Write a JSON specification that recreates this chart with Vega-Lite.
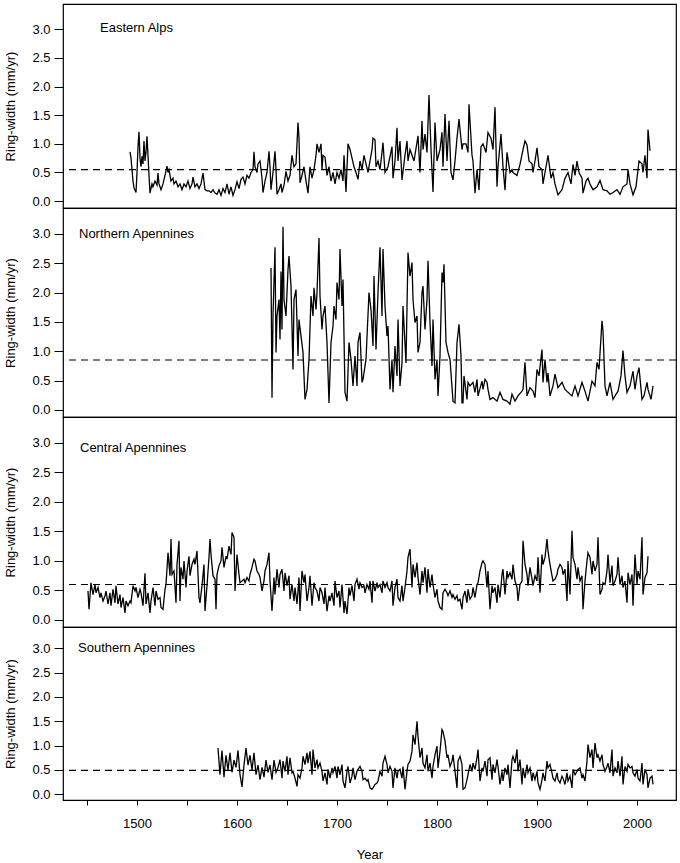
{
"$schema": "https://vega.github.io/schema/vega-lite/v6.json",
"padding": {"left": 4, "top": 3, "right": 4, "bottom": 0},
"spacing": 0,
"bounds": "flush",
"config": {
 "font": "Liberation Sans",
 "view": {"stroke": "black", "strokeWidth": 1.2},
 "axis": {"labelFont": "Liberation Sans", "titleFont": "Liberation Sans", "labelFontSize": 13, "titleFontSize": 13, "titleFontWeight": "normal", "labelColor": "black", "titleColor": "black", "tickColor": "black", "domain": false, "grid": false, "labelOverlap": false, "labelBound": false, "labelFlush": false}
},
"datasets": {
 "ea": [
{"year":1493,"rw":0.86},{"year":1494,"rw":0.75},{"year":1496,"rw":0.35},{"year":1497,"rw":0.23},{"year":1499,"rw":0.15},{"year":1500,"rw":0.5},{"year":1501,"rw":0.95},{"year":1502,"rw":1.21},{"year":1503,"rw":0.75},{"year":1504,"rw":0.6},{"year":1505,"rw":0.78},{"year":1506,"rw":0.65},{"year":1507,"rw":1.05},{"year":1508,"rw":0.7},{"year":1509,"rw":0.85},{"year":1510,"rw":1.13},{"year":1511,"rw":0.8},{"year":1512,"rw":0.45},{"year":1513,"rw":0.14},{"year":1515,"rw":0.3},{"year":1516,"rw":0.25},{"year":1518,"rw":0.35},{"year":1520,"rw":0.28},{"year":1521,"rw":0.49},{"year":1522,"rw":0.3},{"year":1524,"rw":0.2},{"year":1526,"rw":0.3},{"year":1528,"rw":0.45},{"year":1530,"rw":0.61},{"year":1531,"rw":0.5},{"year":1532,"rw":0.55},{"year":1534,"rw":0.35},{"year":1536,"rw":0.4},{"year":1537,"rw":0.3},{"year":1539,"rw":0.35},{"year":1541,"rw":0.25},{"year":1543,"rw":0.3},{"year":1545,"rw":0.2},{"year":1547,"rw":0.3},{"year":1549,"rw":0.25},{"year":1551,"rw":0.35},{"year":1553,"rw":0.22},{"year":1555,"rw":0.3},{"year":1556,"rw":0.42},{"year":1558,"rw":0.25},{"year":1560,"rw":0.3},{"year":1562,"rw":0.22},{"year":1564,"rw":0.3},{"year":1566,"rw":0.49},{"year":1568,"rw":0.2},{"year":1570,"rw":0.18},{"year":1572,"rw":0.18},{"year":1574,"rw":0.15},{"year":1576,"rw":0.2},{"year":1578,"rw":0.14},{"year":1580,"rw":0.12},{"year":1582,"rw":0.2},{"year":1584,"rw":0.1},{"year":1586,"rw":0.22},{"year":1588,"rw":0.15},{"year":1590,"rw":0.3},{"year":1592,"rw":0.12},{"year":1594,"rw":0.25},{"year":1596,"rw":0.1},{"year":1598,"rw":0.2},{"year":1600,"rw":0.34},{"year":1602,"rw":0.22},{"year":1604,"rw":0.38},{"year":1606,"rw":0.42},{"year":1608,"rw":0.3},{"year":1610,"rw":0.45},{"year":1612,"rw":0.4},{"year":1614,"rw":0.5},{"year":1616,"rw":0.55},{"year":1617,"rw":0.86},{"year":1618,"rw":0.6},{"year":1620,"rw":0.5},{"year":1621,"rw":0.65},{"year":1623,"rw":0.7},{"year":1625,"rw":0.4},{"year":1626,"rw":0.15},{"year":1628,"rw":0.35},{"year":1630,"rw":0.5},{"year":1632,"rw":0.87},{"year":1633,"rw":0.6},{"year":1634,"rw":0.2},{"year":1636,"rw":0.5},{"year":1638,"rw":0.87},{"year":1639,"rw":0.55},{"year":1640,"rw":0.12},{"year":1642,"rw":0.2},{"year":1644,"rw":0.3},{"year":1645,"rw":0.15},{"year":1647,"rw":0.28},{"year":1649,"rw":0.52},{"year":1651,"rw":0.35},{"year":1653,"rw":0.45},{"year":1655,"rw":0.8},{"year":1657,"rw":0.6},{"year":1659,"rw":0.65},{"year":1661,"rw":1.37},{"year":1662,"rw":1.1},{"year":1663,"rw":0.32},{"year":1665,"rw":0.45},{"year":1667,"rw":0.6},{"year":1669,"rw":0.35},{"year":1671,"rw":0.14},{"year":1673,"rw":0.6},{"year":1675,"rw":0.4},{"year":1677,"rw":0.55},{"year":1679,"rw":0.8},{"year":1680,"rw":1.0},{"year":1682,"rw":0.85},{"year":1684,"rw":1.0},{"year":1685,"rw":0.55},{"year":1686,"rw":0.8},{"year":1688,"rw":0.77},{"year":1690,"rw":0.45},{"year":1692,"rw":0.6},{"year":1694,"rw":0.35},{"year":1696,"rw":0.5},{"year":1698,"rw":0.3},{"year":1700,"rw":0.5},{"year":1702,"rw":0.4},{"year":1704,"rw":0.55},{"year":1706,"rw":0.35},{"year":1707,"rw":0.8},{"year":1709,"rw":0.16},{"year":1711,"rw":1.0},{"year":1713,"rw":0.9},{"year":1715,"rw":0.75},{"year":1717,"rw":0.6},{"year":1719,"rw":0.5},{"year":1721,"rw":0.38},{"year":1723,"rw":0.7},{"year":1725,"rw":0.55},{"year":1727,"rw":0.8},{"year":1729,"rw":0.65},{"year":1731,"rw":0.5},{"year":1733,"rw":0.7},{"year":1735,"rw":0.9},{"year":1736,"rw":1.1},{"year":1738,"rw":1.07},{"year":1739,"rw":0.6},{"year":1741,"rw":0.7},{"year":1743,"rw":0.55},{"year":1745,"rw":0.85},{"year":1746,"rw":1.02},{"year":1748,"rw":0.5},{"year":1751,"rw":0.6},{"year":1755,"rw":0.95},{"year":1756,"rw":0.4},{"year":1758,"rw":0.7},{"year":1760,"rw":1.28},{"year":1761,"rw":0.7},{"year":1763,"rw":1.05},{"year":1765,"rw":0.37},{"year":1768,"rw":0.8},{"year":1770,"rw":1.05},{"year":1771,"rw":0.7},{"year":1773,"rw":0.9},{"year":1775,"rw":0.8},{"year":1777,"rw":0.7},{"year":1781,"rw":1.14},{"year":1783,"rw":0.5},{"year":1785,"rw":1.4},{"year":1786,"rw":0.9},{"year":1788,"rw":1.17},{"year":1790,"rw":0.85},{"year":1792,"rw":1.85},{"year":1794,"rw":0.9},{"year":1796,"rw":0.16},{"year":1798,"rw":1.37},{"year":1800,"rw":0.7},{"year":1803,"rw":0.9},{"year":1805,"rw":1.2},{"year":1806,"rw":0.6},{"year":1808,"rw":1.52},{"year":1810,"rw":0.7},{"year":1812,"rw":1.4},{"year":1814,"rw":0.5},{"year":1816,"rw":0.37},{"year":1818,"rw":0.7},{"year":1820,"rw":1.1},{"year":1822,"rw":1.43},{"year":1825,"rw":0.9},{"year":1826,"rw":1.0},{"year":1829,"rw":1.0},{"year":1831,"rw":0.85},{"year":1832,"rw":1.69},{"year":1835,"rw":0.8},{"year":1836,"rw":0.7},{"year":1838,"rw":0.14},{"year":1840,"rw":0.55},{"year":1842,"rw":0.19},{"year":1844,"rw":0.95},{"year":1846,"rw":1.0},{"year":1849,"rw":0.85},{"year":1851,"rw":1.2},{"year":1854,"rw":1.1},{"year":1856,"rw":0.9},{"year":1858,"rw":1.64},{"year":1860,"rw":0.25},{"year":1861,"rw":0.6},{"year":1864,"rw":1.17},{"year":1866,"rw":0.6},{"year":1868,"rw":0.19},{"year":1870,"rw":0.85},{"year":1873,"rw":0.5},{"year":1875,"rw":0.55},{"year":1876,"rw":0.5},{"year":1880,"rw":0.45},{"year":1883,"rw":0.64},{"year":1886,"rw":0.9},{"year":1888,"rw":1.05},{"year":1890,"rw":0.98},{"year":1892,"rw":0.7},{"year":1895,"rw":0.65},{"year":1896,"rw":0.5},{"year":1898,"rw":0.7},{"year":1900,"rw":0.93},{"year":1902,"rw":0.6},{"year":1905,"rw":0.55},{"year":1906,"rw":0.3},{"year":1909,"rw":0.6},{"year":1911,"rw":0.8},{"year":1914,"rw":0.4},{"year":1916,"rw":0.5},{"year":1918,"rw":0.3},{"year":1921,"rw":0.11},{"year":1925,"rw":0.2},{"year":1928,"rw":0.4},{"year":1931,"rw":0.5},{"year":1934,"rw":0.3},{"year":1936,"rw":0.64},{"year":1938,"rw":0.45},{"year":1940,"rw":0.7},{"year":1942,"rw":0.5},{"year":1945,"rw":0.4},{"year":1946,"rw":0.14},{"year":1949,"rw":0.35},{"year":1951,"rw":0.4},{"year":1953,"rw":0.3},{"year":1956,"rw":0.2},{"year":1960,"rw":0.25},{"year":1963,"rw":0.36},{"year":1966,"rw":0.2},{"year":1970,"rw":0.18},{"year":1973,"rw":0.12},{"year":1976,"rw":0.15},{"year":1980,"rw":0.2},{"year":1983,"rw":0.12},{"year":1986,"rw":0.25},{"year":1990,"rw":0.3},{"year":1991,"rw":0.55},{"year":1993,"rw":0.3},{"year":1996,"rw":0.11},{"year":1999,"rw":0.25},{"year":2002,"rw":0.7},{"year":2005,"rw":0.65},{"year":2006,"rw":0.5},{"year":2008,"rw":0.8},{"year":2010,"rw":0.4},{"year":2011,"rw":1.25},{"year":2013,"rw":0.88}
 ],
 "na": [
{"year":1634,"rw":2.42},{"year":1635,"rw":0.21},{"year":1636,"rw":1.6},{"year":1638,"rw":2.77},{"year":1639,"rw":0.98},{"year":1640,"rw":1.6},{"year":1642,"rw":1.88},{"year":1643,"rw":1.2},{"year":1644,"rw":2.36},{"year":1645,"rw":1.37},{"year":1646,"rw":3.12},{"year":1647,"rw":1.88},{"year":1649,"rw":1.6},{"year":1651,"rw":2.39},{"year":1652,"rw":2.62},{"year":1654,"rw":2.11},{"year":1656,"rw":0.69},{"year":1657,"rw":1.88},{"year":1659,"rw":2.05},{"year":1661,"rw":0.92},{"year":1662,"rw":1.54},{"year":1664,"rw":1.26},{"year":1666,"rw":0.98},{"year":1668,"rw":0.18},{"year":1670,"rw":0.35},{"year":1672,"rw":0.86},{"year":1674,"rw":1.94},{"year":1676,"rw":1.6},{"year":1677,"rw":2.08},{"year":1679,"rw":1.71},{"year":1680,"rw":2.0},{"year":1682,"rw":2.93},{"year":1683,"rw":1.94},{"year":1685,"rw":1.37},{"year":1686,"rw":1.6},{"year":1688,"rw":1.77},{"year":1690,"rw":1.15},{"year":1692,"rw":0.12},{"year":1694,"rw":1.15},{"year":1696,"rw":1.43},{"year":1697,"rw":1.77},{"year":1699,"rw":1.54},{"year":1700,"rw":2.17},{"year":1702,"rw":1.88},{"year":1703,"rw":2.74},{"year":1705,"rw":1.77},{"year":1706,"rw":2.22},{"year":1708,"rw":0.3},{"year":1710,"rw":0.15},{"year":1712,"rw":1.15},{"year":1714,"rw":0.86},{"year":1716,"rw":0.41},{"year":1718,"rw":0.92},{"year":1720,"rw":0.41},{"year":1721,"rw":1.15},{"year":1723,"rw":1.32},{"year":1725,"rw":0.47},{"year":1726,"rw":0.52},{"year":1729,"rw":0.86},{"year":1732,"rw":2.0},{"year":1734,"rw":1.71},{"year":1736,"rw":1.09},{"year":1737,"rw":2.28},{"year":1739,"rw":1.03},{"year":1741,"rw":2.0},{"year":1743,"rw":2.77},{"year":1745,"rw":1.6},{"year":1746,"rw":2.74},{"year":1748,"rw":1.77},{"year":1750,"rw":1.26},{"year":1751,"rw":1.43},{"year":1753,"rw":0.35},{"year":1755,"rw":0.86},{"year":1756,"rw":0.3},{"year":1758,"rw":1.09},{"year":1760,"rw":0.58},{"year":1761,"rw":1.54},{"year":1763,"rw":0.41},{"year":1765,"rw":0.8},{"year":1766,"rw":1.77},{"year":1769,"rw":0.8},{"year":1771,"rw":2.68},{"year":1773,"rw":2.28},{"year":1775,"rw":2.51},{"year":1776,"rw":1.88},{"year":1778,"rw":1.49},{"year":1780,"rw":1.6},{"year":1781,"rw":0.98},{"year":1783,"rw":1.15},{"year":1785,"rw":2.0},{"year":1786,"rw":2.11},{"year":1788,"rw":1.37},{"year":1790,"rw":1.88},{"year":1791,"rw":2.54},{"year":1793,"rw":1.49},{"year":1795,"rw":0.75},{"year":1796,"rw":1.54},{"year":1798,"rw":0.52},{"year":1800,"rw":0.86},{"year":1801,"rw":0.24},{"year":1803,"rw":0.92},{"year":1805,"rw":2.34},{"year":1806,"rw":2.17},{"year":1807,"rw":2.48},{"year":1809,"rw":1.15},{"year":1811,"rw":0.98},{"year":1813,"rw":0.86},{"year":1816,"rw":0.15},{"year":1818,"rw":0.12},{"year":1820,"rw":1.15},{"year":1822,"rw":1.46},{"year":1823,"rw":1.2},{"year":1824,"rw":0.92},{"year":1825,"rw":0.12},{"year":1826,"rw":0.12},{"year":1827,"rw":0.58},{"year":1830,"rw":0.18},{"year":1831,"rw":0.47},{"year":1833,"rw":0.41},{"year":1836,"rw":0.47},{"year":1838,"rw":0.3},{"year":1840,"rw":0.52},{"year":1841,"rw":0.24},{"year":1845,"rw":0.49},{"year":1846,"rw":0.35},{"year":1848,"rw":0.52},{"year":1850,"rw":0.47},{"year":1851,"rw":0.35},{"year":1853,"rw":0.18},{"year":1856,"rw":0.21},{"year":1860,"rw":0.15},{"year":1863,"rw":0.3},{"year":1866,"rw":0.18},{"year":1870,"rw":0.15},{"year":1873,"rw":0.1},{"year":1875,"rw":0.27},{"year":1878,"rw":0.15},{"year":1881,"rw":0.24},{"year":1885,"rw":0.32},{"year":1886,"rw":0.35},{"year":1888,"rw":0.81},{"year":1890,"rw":0.24},{"year":1893,"rw":0.38},{"year":1896,"rw":0.32},{"year":1898,"rw":0.21},{"year":1900,"rw":0.69},{"year":1902,"rw":0.58},{"year":1905,"rw":1.03},{"year":1906,"rw":0.47},{"year":1908,"rw":0.86},{"year":1910,"rw":0.47},{"year":1911,"rw":0.63},{"year":1913,"rw":0.24},{"year":1916,"rw":0.41},{"year":1918,"rw":0.61},{"year":1921,"rw":0.38},{"year":1925,"rw":0.47},{"year":1928,"rw":0.35},{"year":1931,"rw":0.3},{"year":1935,"rw":0.24},{"year":1938,"rw":0.41},{"year":1941,"rw":0.24},{"year":1945,"rw":0.47},{"year":1948,"rw":0.32},{"year":1951,"rw":0.15},{"year":1955,"rw":0.49},{"year":1958,"rw":0.41},{"year":1960,"rw":0.81},{"year":1962,"rw":0.69},{"year":1965,"rw":1.52},{"year":1966,"rw":1.35},{"year":1968,"rw":0.41},{"year":1970,"rw":0.24},{"year":1973,"rw":0.47},{"year":1976,"rw":0.18},{"year":1978,"rw":0.24},{"year":1981,"rw":0.32},{"year":1984,"rw":0.58},{"year":1986,"rw":1.01},{"year":1988,"rw":0.58},{"year":1990,"rw":0.3},{"year":1993,"rw":0.41},{"year":1996,"rw":0.66},{"year":1998,"rw":0.35},{"year":2000,"rw":0.58},{"year":2002,"rw":0.72},{"year":2005,"rw":0.18},{"year":2007,"rw":0.24},{"year":2010,"rw":0.47},{"year":2011,"rw":0.35},{"year":2014,"rw":0.18},{"year":2016,"rw":0.41}
 ],
 "ca": [
{"year":1451,"rw":0.49},{"year":1452,"rw":0.18},{"year":1454,"rw":0.63},{"year":1456,"rw":0.43},{"year":1458,"rw":0.6},{"year":1459,"rw":0.46},{"year":1461,"rw":0.55},{"year":1463,"rw":0.38},{"year":1464,"rw":0.46},{"year":1466,"rw":0.32},{"year":1468,"rw":0.41},{"year":1469,"rw":0.49},{"year":1471,"rw":0.27},{"year":1473,"rw":0.46},{"year":1474,"rw":0.24},{"year":1476,"rw":0.52},{"year":1478,"rw":0.29},{"year":1479,"rw":0.58},{"year":1481,"rw":0.27},{"year":1483,"rw":0.43},{"year":1484,"rw":0.21},{"year":1486,"rw":0.38},{"year":1488,"rw":0.12},{"year":1489,"rw":0.32},{"year":1491,"rw":0.24},{"year":1493,"rw":0.32},{"year":1494,"rw":0.29},{"year":1496,"rw":0.58},{"year":1498,"rw":0.49},{"year":1499,"rw":0.55},{"year":1501,"rw":0.38},{"year":1503,"rw":0.52},{"year":1504,"rw":0.46},{"year":1506,"rw":0.24},{"year":1508,"rw":0.79},{"year":1509,"rw":0.27},{"year":1511,"rw":0.46},{"year":1513,"rw":0.12},{"year":1514,"rw":0.32},{"year":1516,"rw":0.55},{"year":1518,"rw":0.24},{"year":1519,"rw":0.49},{"year":1521,"rw":0.35},{"year":1523,"rw":0.38},{"year":1524,"rw":0.21},{"year":1526,"rw":0.18},{"year":1528,"rw":0.52},{"year":1529,"rw":0.6},{"year":1531,"rw":1.14},{"year":1533,"rw":0.75},{"year":1534,"rw":1.37},{"year":1535,"rw":0.77},{"year":1537,"rw":0.83},{"year":1539,"rw":0.29},{"year":1540,"rw":0.94},{"year":1542,"rw":1.34},{"year":1543,"rw":0.32},{"year":1544,"rw":0.89},{"year":1546,"rw":0.69},{"year":1547,"rw":1.0},{"year":1549,"rw":0.55},{"year":1550,"rw":0.83},{"year":1552,"rw":1.08},{"year":1553,"rw":0.75},{"year":1555,"rw":0.94},{"year":1557,"rw":1.03},{"year":1558,"rw":0.94},{"year":1560,"rw":1.17},{"year":1562,"rw":0.38},{"year":1563,"rw":0.29},{"year":1565,"rw":0.58},{"year":1567,"rw":0.94},{"year":1568,"rw":0.15},{"year":1570,"rw":0.58},{"year":1572,"rw":1.06},{"year":1573,"rw":1.37},{"year":1574,"rw":1.11},{"year":1576,"rw":0.75},{"year":1578,"rw":0.69},{"year":1579,"rw":0.18},{"year":1580,"rw":0.77},{"year":1582,"rw":0.92},{"year":1584,"rw":1.0},{"year":1585,"rw":1.23},{"year":1587,"rw":0.89},{"year":1589,"rw":1.08},{"year":1590,"rw":1.03},{"year":1592,"rw":1.25},{"year":1594,"rw":1.11},{"year":1595,"rw":1.48},{"year":1597,"rw":1.4},{"year":1598,"rw":0.49},{"year":1600,"rw":1.11},{"year":1602,"rw":0.77},{"year":1603,"rw":0.63},{"year":1605,"rw":0.66},{"year":1607,"rw":0.69},{"year":1608,"rw":0.63},{"year":1610,"rw":0.72},{"year":1612,"rw":0.66},{"year":1613,"rw":0.77},{"year":1615,"rw":0.89},{"year":1617,"rw":1.03},{"year":1618,"rw":1.0},{"year":1620,"rw":0.83},{"year":1622,"rw":0.77},{"year":1623,"rw":0.72},{"year":1625,"rw":0.49},{"year":1627,"rw":0.66},{"year":1628,"rw":0.83},{"year":1630,"rw":0.94},{"year":1632,"rw":1.14},{"year":1633,"rw":0.66},{"year":1635,"rw":0.15},{"year":1637,"rw":0.72},{"year":1638,"rw":0.43},{"year":1640,"rw":0.86},{"year":1642,"rw":0.55},{"year":1643,"rw":0.77},{"year":1645,"rw":0.86},{"year":1647,"rw":0.49},{"year":1648,"rw":0.8},{"year":1650,"rw":0.58},{"year":1652,"rw":0.75},{"year":1653,"rw":0.35},{"year":1655,"rw":0.6},{"year":1657,"rw":0.32},{"year":1658,"rw":0.55},{"year":1660,"rw":0.27},{"year":1662,"rw":0.72},{"year":1663,"rw":0.15},{"year":1665,"rw":0.83},{"year":1667,"rw":0.63},{"year":1668,"rw":0.77},{"year":1670,"rw":0.32},{"year":1672,"rw":0.55},{"year":1673,"rw":0.75},{"year":1675,"rw":0.24},{"year":1677,"rw":0.63},{"year":1678,"rw":0.55},{"year":1680,"rw":0.49},{"year":1682,"rw":0.32},{"year":1683,"rw":0.55},{"year":1685,"rw":0.46},{"year":1687,"rw":0.27},{"year":1688,"rw":0.55},{"year":1690,"rw":0.15},{"year":1692,"rw":0.41},{"year":1693,"rw":0.32},{"year":1695,"rw":0.46},{"year":1697,"rw":0.24},{"year":1698,"rw":0.66},{"year":1700,"rw":0.38},{"year":1702,"rw":0.49},{"year":1703,"rw":0.21},{"year":1705,"rw":0.6},{"year":1707,"rw":0.12},{"year":1708,"rw":0.32},{"year":1710,"rw":0.1},{"year":1712,"rw":0.55},{"year":1713,"rw":0.41},{"year":1715,"rw":0.58},{"year":1717,"rw":0.32},{"year":1718,"rw":0.6},{"year":1720,"rw":0.69},{"year":1722,"rw":0.52},{"year":1723,"rw":0.63},{"year":1725,"rw":0.55},{"year":1727,"rw":0.58},{"year":1728,"rw":0.46},{"year":1730,"rw":0.6},{"year":1732,"rw":0.52},{"year":1733,"rw":0.66},{"year":1735,"rw":0.29},{"year":1736,"rw":0.66},{"year":1738,"rw":0.49},{"year":1740,"rw":0.63},{"year":1741,"rw":0.55},{"year":1743,"rw":0.6},{"year":1745,"rw":0.46},{"year":1746,"rw":0.66},{"year":1748,"rw":0.55},{"year":1750,"rw":0.63},{"year":1751,"rw":0.55},{"year":1753,"rw":0.49},{"year":1755,"rw":0.66},{"year":1756,"rw":0.24},{"year":1758,"rw":0.55},{"year":1760,"rw":0.69},{"year":1761,"rw":0.38},{"year":1763,"rw":0.32},{"year":1765,"rw":0.58},{"year":1766,"rw":0.32},{"year":1768,"rw":0.55},{"year":1770,"rw":0.83},{"year":1771,"rw":1.06},{"year":1773,"rw":1.2},{"year":1775,"rw":0.55},{"year":1776,"rw":0.94},{"year":1778,"rw":0.72},{"year":1780,"rw":0.97},{"year":1781,"rw":0.72},{"year":1783,"rw":0.43},{"year":1785,"rw":0.83},{"year":1786,"rw":0.63},{"year":1788,"rw":0.89},{"year":1790,"rw":0.46},{"year":1791,"rw":0.86},{"year":1793,"rw":0.55},{"year":1795,"rw":0.77},{"year":1796,"rw":0.6},{"year":1798,"rw":0.38},{"year":1800,"rw":0.52},{"year":1801,"rw":0.32},{"year":1803,"rw":0.21},{"year":1805,"rw":0.18},{"year":1806,"rw":0.46},{"year":1808,"rw":0.52},{"year":1810,"rw":0.46},{"year":1811,"rw":0.41},{"year":1813,"rw":0.49},{"year":1815,"rw":0.38},{"year":1816,"rw":0.43},{"year":1818,"rw":0.35},{"year":1820,"rw":0.41},{"year":1821,"rw":0.32},{"year":1823,"rw":0.35},{"year":1825,"rw":0.18},{"year":1826,"rw":0.38},{"year":1828,"rw":0.49},{"year":1830,"rw":0.29},{"year":1831,"rw":0.52},{"year":1833,"rw":0.35},{"year":1835,"rw":0.41},{"year":1836,"rw":0.55},{"year":1838,"rw":0.38},{"year":1840,"rw":0.6},{"year":1841,"rw":0.63},{"year":1843,"rw":0.83},{"year":1845,"rw":0.97},{"year":1846,"rw":1.0},{"year":1848,"rw":0.94},{"year":1850,"rw":0.55},{"year":1851,"rw":0.83},{"year":1853,"rw":0.18},{"year":1855,"rw":0.58},{"year":1856,"rw":0.46},{"year":1858,"rw":0.55},{"year":1860,"rw":0.29},{"year":1861,"rw":0.6},{"year":1863,"rw":0.38},{"year":1865,"rw":0.77},{"year":1866,"rw":0.86},{"year":1868,"rw":0.43},{"year":1870,"rw":0.83},{"year":1871,"rw":0.72},{"year":1873,"rw":0.8},{"year":1875,"rw":0.69},{"year":1876,"rw":0.94},{"year":1878,"rw":0.66},{"year":1880,"rw":0.55},{"year":1881,"rw":0.32},{"year":1883,"rw":0.6},{"year":1885,"rw":0.66},{"year":1886,"rw":1.34},{"year":1888,"rw":0.94},{"year":1890,"rw":0.77},{"year":1891,"rw":0.58},{"year":1893,"rw":0.89},{"year":1895,"rw":0.69},{"year":1896,"rw":0.58},{"year":1898,"rw":0.75},{"year":1900,"rw":0.66},{"year":1901,"rw":1.06},{"year":1903,"rw":0.46},{"year":1905,"rw":1.11},{"year":1906,"rw":0.94},{"year":1908,"rw":1.06},{"year":1910,"rw":1.37},{"year":1911,"rw":1.17},{"year":1913,"rw":0.94},{"year":1915,"rw":0.75},{"year":1916,"rw":0.66},{"year":1918,"rw":0.69},{"year":1920,"rw":0.77},{"year":1921,"rw":0.86},{"year":1923,"rw":0.94},{"year":1925,"rw":0.89},{"year":1926,"rw":0.77},{"year":1928,"rw":0.86},{"year":1930,"rw":0.32},{"year":1931,"rw":1.0},{"year":1933,"rw":0.43},{"year":1935,"rw":1.51},{"year":1936,"rw":1.06},{"year":1938,"rw":0.94},{"year":1940,"rw":0.69},{"year":1941,"rw":0.89},{"year":1943,"rw":0.66},{"year":1945,"rw":0.75},{"year":1946,"rw":0.18},{"year":1948,"rw":0.66},{"year":1950,"rw":1.0},{"year":1951,"rw":1.14},{"year":1953,"rw":1.06},{"year":1955,"rw":0.77},{"year":1956,"rw":1.0},{"year":1958,"rw":0.83},{"year":1960,"rw":0.94},{"year":1961,"rw":1.4},{"year":1963,"rw":0.43},{"year":1965,"rw":0.52},{"year":1966,"rw":0.63},{"year":1968,"rw":0.6},{"year":1970,"rw":0.83},{"year":1971,"rw":1.11},{"year":1973,"rw":0.63},{"year":1975,"rw":0.92},{"year":1976,"rw":0.58},{"year":1978,"rw":0.66},{"year":1980,"rw":0.77},{"year":1981,"rw":1.06},{"year":1983,"rw":0.6},{"year":1985,"rw":0.75},{"year":1986,"rw":0.55},{"year":1988,"rw":0.66},{"year":1990,"rw":0.29},{"year":1991,"rw":0.8},{"year":1993,"rw":0.6},{"year":1995,"rw":0.77},{"year":1996,"rw":0.24},{"year":1998,"rw":1.11},{"year":2000,"rw":0.6},{"year":2001,"rw":0.83},{"year":2003,"rw":0.69},{"year":2005,"rw":1.4},{"year":2006,"rw":0.43},{"year":2008,"rw":0.72},{"year":2010,"rw":0.8},{"year":2011,"rw":1.08}
 ],
 "sa": [
{"year":1581,"rw":0.95},{"year":1583,"rw":0.4},{"year":1585,"rw":0.9},{"year":1587,"rw":0.35},{"year":1589,"rw":0.8},{"year":1591,"rw":0.5},{"year":1593,"rw":0.85},{"year":1595,"rw":0.45},{"year":1597,"rw":0.7},{"year":1599,"rw":0.55},{"year":1601,"rw":0.9},{"year":1603,"rw":0.4},{"year":1605,"rw":0.15},{"year":1607,"rw":0.6},{"year":1609,"rw":0.95},{"year":1611,"rw":0.6},{"year":1613,"rw":0.8},{"year":1615,"rw":0.5},{"year":1617,"rw":0.85},{"year":1619,"rw":0.4},{"year":1621,"rw":0.6},{"year":1623,"rw":0.3},{"year":1625,"rw":0.55},{"year":1627,"rw":0.35},{"year":1629,"rw":0.7},{"year":1631,"rw":0.45},{"year":1633,"rw":0.6},{"year":1635,"rw":0.3},{"year":1637,"rw":0.7},{"year":1639,"rw":0.45},{"year":1641,"rw":0.55},{"year":1643,"rw":0.71},{"year":1645,"rw":0.33},{"year":1646,"rw":0.68},{"year":1648,"rw":0.47},{"year":1650,"rw":0.78},{"year":1651,"rw":0.4},{"year":1653,"rw":0.75},{"year":1655,"rw":0.44},{"year":1656,"rw":0.47},{"year":1658,"rw":0.33},{"year":1660,"rw":0.16},{"year":1661,"rw":0.4},{"year":1663,"rw":0.33},{"year":1665,"rw":0.54},{"year":1666,"rw":0.78},{"year":1668,"rw":0.61},{"year":1670,"rw":0.85},{"year":1671,"rw":0.64},{"year":1673,"rw":0.88},{"year":1675,"rw":0.4},{"year":1676,"rw":0.92},{"year":1678,"rw":0.54},{"year":1680,"rw":0.71},{"year":1681,"rw":0.54},{"year":1683,"rw":0.64},{"year":1685,"rw":0.47},{"year":1686,"rw":0.27},{"year":1688,"rw":0.44},{"year":1690,"rw":0.2},{"year":1691,"rw":0.51},{"year":1693,"rw":0.33},{"year":1695,"rw":0.54},{"year":1696,"rw":0.44},{"year":1698,"rw":0.57},{"year":1700,"rw":0.33},{"year":1701,"rw":0.57},{"year":1703,"rw":0.4},{"year":1705,"rw":0.61},{"year":1706,"rw":0.27},{"year":1708,"rw":0.13},{"year":1710,"rw":0.47},{"year":1711,"rw":0.57},{"year":1713,"rw":0.23},{"year":1715,"rw":0.37},{"year":1716,"rw":0.54},{"year":1718,"rw":0.3},{"year":1720,"rw":0.47},{"year":1721,"rw":0.51},{"year":1723,"rw":0.57},{"year":1725,"rw":0.47},{"year":1726,"rw":0.3},{"year":1728,"rw":0.33},{"year":1730,"rw":0.27},{"year":1731,"rw":0.3},{"year":1733,"rw":0.13},{"year":1735,"rw":0.1},{"year":1736,"rw":0.13},{"year":1738,"rw":0.2},{"year":1740,"rw":0.23},{"year":1741,"rw":0.27},{"year":1743,"rw":0.47},{"year":1745,"rw":0.37},{"year":1746,"rw":0.64},{"year":1748,"rw":0.78},{"year":1750,"rw":0.61},{"year":1751,"rw":0.44},{"year":1753,"rw":0.57},{"year":1755,"rw":0.47},{"year":1756,"rw":0.13},{"year":1758,"rw":0.54},{"year":1760,"rw":0.33},{"year":1761,"rw":0.47},{"year":1763,"rw":0.51},{"year":1765,"rw":0.33},{"year":1766,"rw":0.57},{"year":1768,"rw":0.1},{"year":1770,"rw":0.47},{"year":1771,"rw":0.61},{"year":1773,"rw":0.68},{"year":1775,"rw":0.88},{"year":1776,"rw":1.22},{"year":1778,"rw":1.02},{"year":1780,"rw":1.5},{"year":1781,"rw":1.19},{"year":1783,"rw":0.75},{"year":1785,"rw":0.95},{"year":1786,"rw":0.64},{"year":1788,"rw":0.54},{"year":1790,"rw":0.81},{"year":1791,"rw":0.47},{"year":1793,"rw":0.64},{"year":1795,"rw":0.33},{"year":1796,"rw":0.57},{"year":1798,"rw":0.81},{"year":1800,"rw":0.99},{"year":1801,"rw":0.54},{"year":1803,"rw":0.88},{"year":1805,"rw":1.33},{"year":1806,"rw":1.29},{"year":1808,"rw":1.09},{"year":1810,"rw":0.75},{"year":1811,"rw":0.81},{"year":1813,"rw":0.57},{"year":1815,"rw":0.68},{"year":1816,"rw":0.81},{"year":1818,"rw":0.47},{"year":1820,"rw":0.13},{"year":1821,"rw":0.68},{"year":1823,"rw":0.78},{"year":1825,"rw":0.61},{"year":1826,"rw":0.1},{"year":1828,"rw":0.13},{"year":1830,"rw":0.3},{"year":1831,"rw":0.4},{"year":1833,"rw":0.61},{"year":1835,"rw":0.47},{"year":1836,"rw":0.64},{"year":1838,"rw":0.51},{"year":1840,"rw":0.75},{"year":1841,"rw":0.92},{"year":1843,"rw":0.27},{"year":1845,"rw":0.54},{"year":1846,"rw":0.47},{"year":1848,"rw":0.68},{"year":1850,"rw":0.37},{"year":1851,"rw":0.71},{"year":1853,"rw":0.75},{"year":1855,"rw":0.3},{"year":1856,"rw":0.61},{"year":1858,"rw":0.44},{"year":1860,"rw":0.71},{"year":1861,"rw":0.57},{"year":1863,"rw":0.2},{"year":1865,"rw":0.47},{"year":1866,"rw":0.27},{"year":1868,"rw":0.54},{"year":1870,"rw":0.4},{"year":1871,"rw":0.61},{"year":1873,"rw":0.13},{"year":1875,"rw":0.71},{"year":1876,"rw":0.78},{"year":1878,"rw":0.64},{"year":1880,"rw":0.92},{"year":1881,"rw":0.47},{"year":1883,"rw":0.71},{"year":1885,"rw":0.2},{"year":1886,"rw":0.54},{"year":1888,"rw":0.33},{"year":1890,"rw":0.61},{"year":1891,"rw":0.44},{"year":1893,"rw":0.54},{"year":1895,"rw":0.27},{"year":1896,"rw":0.44},{"year":1898,"rw":0.3},{"year":1900,"rw":0.47},{"year":1901,"rw":0.23},{"year":1903,"rw":0.1},{"year":1905,"rw":0.3},{"year":1906,"rw":0.44},{"year":1908,"rw":0.27},{"year":1910,"rw":0.68},{"year":1911,"rw":0.54},{"year":1913,"rw":0.61},{"year":1915,"rw":0.44},{"year":1916,"rw":0.33},{"year":1918,"rw":0.27},{"year":1920,"rw":0.44},{"year":1921,"rw":0.3},{"year":1923,"rw":0.23},{"year":1925,"rw":0.37},{"year":1926,"rw":0.33},{"year":1928,"rw":0.2},{"year":1930,"rw":0.44},{"year":1931,"rw":0.27},{"year":1933,"rw":0.37},{"year":1935,"rw":0.13},{"year":1936,"rw":0.51},{"year":1938,"rw":0.4},{"year":1940,"rw":0.47},{"year":1941,"rw":0.51},{"year":1943,"rw":0.54},{"year":1945,"rw":0.33},{"year":1946,"rw":0.4},{"year":1948,"rw":0.27},{"year":1950,"rw":0.68},{"year":1951,"rw":1.02},{"year":1953,"rw":0.75},{"year":1955,"rw":0.92},{"year":1956,"rw":0.54},{"year":1958,"rw":1.05},{"year":1960,"rw":0.75},{"year":1961,"rw":0.81},{"year":1963,"rw":0.68},{"year":1965,"rw":0.81},{"year":1966,"rw":0.61},{"year":1968,"rw":0.47},{"year":1970,"rw":0.57},{"year":1971,"rw":0.64},{"year":1973,"rw":0.44},{"year":1975,"rw":0.92},{"year":1976,"rw":0.37},{"year":1978,"rw":0.54},{"year":1980,"rw":0.44},{"year":1981,"rw":0.68},{"year":1983,"rw":0.37},{"year":1985,"rw":0.78},{"year":1986,"rw":0.2},{"year":1988,"rw":0.57},{"year":1990,"rw":0.47},{"year":1991,"rw":0.61},{"year":1993,"rw":0.54},{"year":1995,"rw":0.57},{"year":1996,"rw":0.44},{"year":1998,"rw":0.37},{"year":2000,"rw":0.51},{"year":2001,"rw":0.33},{"year":2003,"rw":0.27},{"year":2005,"rw":0.64},{"year":2006,"rw":0.2},{"year":2008,"rw":0.51},{"year":2010,"rw":0.4},{"year":2011,"rw":0.13},{"year":2013,"rw":0.33},{"year":2015,"rw":0.37},{"year":2016,"rw":0.2}
 ]
},
"vconcat": [
 {"width": 613, "height": 204,
  "encoding": {"y": {"type": "quantitative", "scale": {"domain": [-0.12, 3.44], "nice": false, "zero": false}, "axis": {"title": "Ring-width (mm/yr)", "values": [0, 0.5, 1, 1.5, 2, 2.5, 3], "tickCount": 7, "format": ".1f", "tickSize": 9, "labelPadding": 4, "titlePadding": 14}}},
  "layer": [
   {"data": {"name": "ea"}, "mark": {"type": "line", "color": "black", "strokeWidth": 1.3, "clip": true},
    "encoding": {"x": {"field": "year", "type": "quantitative", "scale": {"domain": [1426, 2039], "nice": false, "zero": false}, "axis": null},
                 "y": {"field": "rw"}}},
   {"data": {"values": [{}]}, "mark": {"type": "rule", "strokeDash": [7, 5], "color": "black", "strokeWidth": 1.1}, "encoding": {"y": {"datum": 0.55}}},
   {"data": {"values": [{}]}, "mark": {"type": "text", "align": "left", "baseline": "middle", "fontSize": 13, "font": "Liberation Sans", "color": "black"}, "encoding": {"x": {"datum": 1463}, "y": {"datum": 3.02}, "text": {"value": "Eastern Alps"}}}
  ]},
 {"width": 613, "height": 209,
  "encoding": {"y": {"type": "quantitative", "scale": {"domain": [-0.12, 3.44], "nice": false, "zero": false}, "axis": {"title": "Ring-width (mm/yr)", "values": [0, 0.5, 1, 1.5, 2, 2.5, 3], "tickCount": 7, "format": ".1f", "tickSize": 9, "labelPadding": 4, "titlePadding": 14}}},
  "layer": [
   {"data": {"name": "na"}, "mark": {"type": "line", "color": "black", "strokeWidth": 1.3, "clip": true},
    "encoding": {"x": {"field": "year", "type": "quantitative", "scale": {"domain": [1426, 2039], "nice": false, "zero": false}, "axis": null},
                 "y": {"field": "rw"}}},
   {"data": {"values": [{}]}, "mark": {"type": "rule", "strokeDash": [7, 5], "color": "black", "strokeWidth": 1.1}, "encoding": {"y": {"datum": 0.85}}},
   {"data": {"values": [{}]}, "mark": {"type": "text", "align": "left", "baseline": "middle", "fontSize": 13, "font": "Liberation Sans", "color": "black"}, "encoding": {"x": {"datum": 1442}, "y": {"datum": 3.0}, "text": {"value": "Northern Apennines"}}}
  ]},
 {"width": 613, "height": 210,
  "encoding": {"y": {"type": "quantitative", "scale": {"domain": [-0.12, 3.44], "nice": false, "zero": false}, "axis": {"title": "Ring-width (mm/yr)", "values": [0, 0.5, 1, 1.5, 2, 2.5, 3], "tickCount": 7, "format": ".1f", "tickSize": 9, "labelPadding": 4, "titlePadding": 14}}},
  "layer": [
   {"data": {"name": "ca"}, "mark": {"type": "line", "color": "black", "strokeWidth": 1.3, "clip": true},
    "encoding": {"x": {"field": "year", "type": "quantitative", "scale": {"domain": [1426, 2039], "nice": false, "zero": false}, "axis": null},
                 "y": {"field": "rw"}}},
   {"data": {"values": [{}]}, "mark": {"type": "rule", "strokeDash": [7, 5], "color": "black", "strokeWidth": 1.1}, "encoding": {"y": {"datum": 0.6}}},
   {"data": {"values": [{}]}, "mark": {"type": "text", "align": "left", "baseline": "middle", "fontSize": 13, "font": "Liberation Sans", "color": "black"}, "encoding": {"x": {"datum": 1443}, "y": {"datum": 2.92}, "text": {"value": "Central Apennines"}}}
  ]},
 {"width": 613, "height": 173,
  "encoding": {"y": {"type": "quantitative", "scale": {"domain": [-0.12, 3.44], "nice": false, "zero": false}, "axis": {"title": "Ring-width (mm/yr)", "values": [0, 0.5, 1, 1.5, 2, 2.5, 3], "tickCount": 7, "format": ".1f", "tickSize": 9, "labelPadding": 4, "titlePadding": 14}}},
  "layer": [
   {"data": {"name": "sa"}, "mark": {"type": "line", "color": "black", "strokeWidth": 1.3, "clip": true},
    "encoding": {"x": {"field": "year", "type": "quantitative", "scale": {"domain": [1426, 2039], "nice": false, "zero": false},
                       "axis": {"title": "Year", "values": [1450, 1500, 1550, 1600, 1650, 1700, 1750, 1800, 1850, 1900, 1950, 2000], "format": "d", "labelExpr": "datum.value % 100 === 0 ? datum.label : ''", "tickSize": 5, "labelPadding": 12, "titlePadding": 18}},
                 "y": {"field": "rw"}}},
   {"data": {"values": [{}]}, "mark": {"type": "rule", "strokeDash": [7, 5], "color": "black", "strokeWidth": 1.1}, "encoding": {"y": {"datum": 0.49}}},
   {"data": {"values": [{}]}, "mark": {"type": "text", "align": "left", "baseline": "middle", "fontSize": 13, "font": "Liberation Sans", "color": "black"}, "encoding": {"x": {"datum": 1441}, "y": {"datum": 3.0}, "text": {"value": "Southern Apennines"}}}
  ]}
]
}
